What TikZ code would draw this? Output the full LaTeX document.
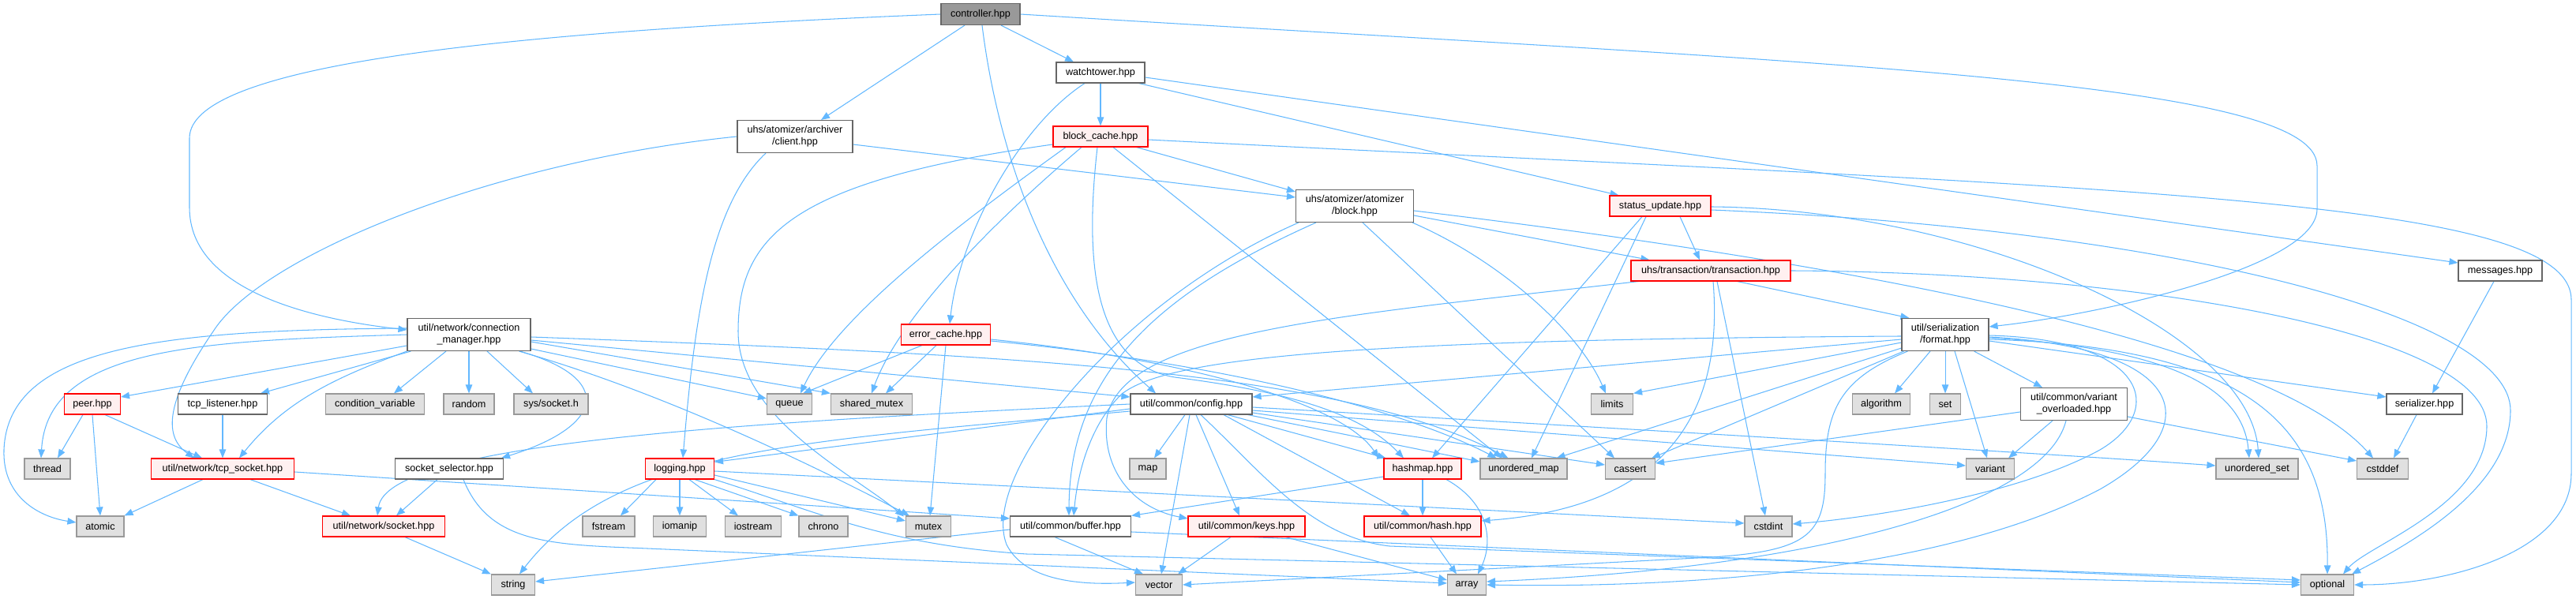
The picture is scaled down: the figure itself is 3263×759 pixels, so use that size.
\documentclass[tikz,border=0pt]{standalone}
\usepackage{fontspec}
\setmainfont{Liberation Sans}
\usetikzlibrary{arrows.meta,calc}
\definecolor{edgec}{HTML}{63B8FF}
\definecolor{redfill}{HTML}{FFF0F0}
\definecolor{grayfill}{HTML}{E0E0E0}
\definecolor{rootfill}{HTML}{999999}
\definecolor{bord}{HTML}{666666}
\definecolor{gbord}{HTML}{999999}
\definecolor{rbord}{HTML}{FF0000}
\pgfdeclarelayer{bg}
\pgfsetlayers{bg,main}
\begin{document}
\begin{tikzpicture}[x=0.02cm,y=-0.02cm,
  font=\fontsize{7.2}{8.5}\selectfont,
  hdr/.style={draw=bord,fill=white,line width=0.65pt,inner sep=0pt,minimum height=0.52cm,align=center},
  sys/.style={hdr,draw=gbord,fill=grayfill},
  trunc/.style={hdr,draw=rbord,fill=redfill},
  root/.style={hdr,fill=rootfill},
  two/.style={minimum height=0.82cm},
  wd/.style={minimum width=#1*0.02cm},
  dep/.style={draw=edgec,line width=0.6pt,-{Triangle[length=0.22cm,width=0.17cm]}}
]
\useasboundingbox (0,0) rectangle (3263,759);

% ---------------- nodes ----------------
\node[root,wd=100,minimum height=0.54cm] (ctrl) at (1242,18) {controller.hpp};
\node[hdr,wd=112] (watch) at (1394,92) {watchtower.hpp};
\node[hdr,two,wd=146] (client) at (1007,173) {uhs/atomizer/archiver\\/client.hpp};
\node[trunc,wd=120] (bcache) at (1394,173) {block\_cache.hpp};
\node[hdr,two,wd=149] (block) at (1716,261) {uhs/atomizer/atomizer\\/block.hpp};
\node[trunc,wd=128] (status) at (2103,261) {status\_update.hpp};
\node[trunc,wd=202] (trans) at (2167,343) {uhs/transaction/transaction.hpp};
\node[hdr,wd=106] (msgs) at (3167,343) {messages.hpp};
\node[hdr,two,wd=156] (cm) at (594,424) {util/network/connection\\\_manager.hpp};
\node[trunc,wd=113] (errc) at (1198,424) {error\_cache.hpp};
\node[hdr,two,wd=110] (format) at (2464,424) {util/serialization\\/format.hpp};

\node[trunc,wd=71] (peer) at (117,512) {peer.hpp};
\node[hdr,wd=113] (tcplis) at (282,512) {tcp\_listener.hpp};
\node[sys,wd=125] (condvar) at (475,512) {condition\_variable};
\node[sys,wd=64] (random) at (594,512) {random};
\node[sys,wd=94] (syssock) at (698,512) {sys/socket.h};
\node[sys,wd=57] (queue) at (1000,512) {queue};
\node[sys,wd=103] (shmutex) at (1104,512) {shared\_mutex};
\node[hdr,wd=154] (config) at (1509,512) {util/common/config.hpp};
\node[sys,wd=53] (limits) at (2042,512) {limits};
\node[sys,wd=73] (algorithm) at (2383,512) {algorithm};
\node[sys,wd=39] (set) at (2464,512) {set};
\node[hdr,two,wd=135] (varov) at (2627,512) {util/common/variant\\\_overloaded.hpp};
\node[hdr,wd=96] (serializer) at (3071,512) {serializer.hpp};

\node[sys,wd=58] (thread) at (60,594) {thread};
\node[trunc,wd=181] (tcpsock) at (282,594) {util/network/tcp\_socket.hpp};
\node[hdr,wd=137] (sockselector) at (569,594) {socket\_selector.hpp};
\node[trunc,wd=87] (logging) at (861,594) {logging.hpp};
\node[sys,wd=46] (map) at (1454,594) {map};
\node[trunc,wd=98] (hashmap) at (1802,594) {hashmap.hpp};
\node[sys,wd=110] (umap) at (1930,594) {unordered\_map};
\node[sys,wd=63] (cassert) at (2065,594) {cassert};
\node[sys,wd=61] (variant) at (2521,594) {variant};
\node[sys,wd=104] (uset) at (2859,594) {unordered\_set};
\node[sys,wd=65] (cstddef) at (3018,594) {cstddef};

\node[sys,wd=60] (atomic) at (127,667) {atomic};
\node[trunc,wd=155] (socket) at (486,667) {util/network/socket.hpp};
\node[sys,wd=66] (fstream) at (771,667) {fstream};
\node[sys,wd=67] (iomanip) at (861,667) {iomanip};
\node[sys,wd=71] (iostream) at (954,667) {iostream};
\node[sys,wd=62] (chrono) at (1043,667) {chrono};
\node[sys,wd=57] (mutex) at (1176,667) {mutex};
\node[hdr,wd=153] (buffer) at (1356,667) {util/common/buffer.hpp};
\node[trunc,wd=148] (keys) at (1579,667) {util/common/keys.hpp};
\node[trunc,wd=148] (hash) at (1802,667) {util/common/hash.hpp};
\node[sys,wd=60] (cstdint) at (2240,667) {cstdint};

\node[sys,wd=55] (string) at (650,741) {string};
\node[sys,wd=59] (vector) at (1468,741) {vector};
\node[sys,wd=49] (array) at (1858,741) {array};
\node[sys,wd=67] (optional) at (2948,741) {optional};

% ---------------- edges ----------------
\begin{pgfonlayer}{bg}
% controller
\draw[dep] (ctrl.west) .. controls (650,40) and (240,80) .. (240,175) -- (240,263) .. controls (240,370) and (400,405) .. ($(cm.west)+(0,-6)$);
\draw[dep] ($(ctrl.south)+(-20,0)$) -- ($(client.north)+(33,0)$);
\draw[dep] ($(ctrl.south)+(26,0)$) -- ($(watch.north)+(-34,0)$);
\draw[dep] ($(ctrl.south)+(2,0)$) .. controls (1265,200) and (1330,380) .. ($(config.north)+(-45,0)$);
\draw[dep] (ctrl.east) .. controls (2300,80) and (2935,100) .. (2935,210) -- (2935,265) .. controls (2935,340) and (2650,400) .. ($(format.east)+(0,-10)$);
% client
\draw[dep] (client.west) .. controls (620,205) and (330,325) .. (270,420) .. controls (205,515) and (210,555) .. ($(tcpsock.north)+(-36,0)$);
\draw[dep] ($(client.south)+(-37,0)$) .. controls (900,260) and (880,400) .. ($(logging.north)+(4,0)$);
\draw[dep] ($(client.east)+(0,10)$) -- ($(block.west)+(0,-11)$);
% watchtower
\draw[dep] ($(watch.south)+(-20,0)$) .. controls (1290,160) and (1215,300) .. ($(errc.north)+(5,0)$);
\draw[dep] (watch) -- (bcache);
\draw[dep] ($(watch.south east)+(-8,0)$) -- ($(status.north west)+(12,0)$);
\draw[dep] ($(watch.east)+(0,6)$) -- ($(msgs.west)+(0,-10)$);
% block_cache
\draw[dep] ($(bcache.south east)+(-15,0)$) -- ($(block.north west)+(0,3)$);
\draw[dep] ($(bcache.east)+(0,4)$) .. controls (2700,240) and (3257,250) .. (3257,380) -- (3257,600) .. controls (3257,700) and (3100,741) .. (optional.east);
\draw[dep] ($(bcache.south)+(-4,0)$) .. controls (1375,320) and (1380,460) .. (1488,478) .. controls (1620,495) and (1720,520) .. ($(hashmap.north)+(-24,0)$);
\draw[dep] ($(bcache.west)+(0,10)$) .. controls (1000,230) and (935,300) .. (935,420) .. controls (935,530) and (1080,600) .. ($(mutex.north west)+(-2,1)$);
\draw[dep] ($(bcache.south)+(-44,0)$) .. controls (1220,280) and (1060,400) .. ($(queue.north)+(14,0)$);
\draw[dep] ($(bcache.south)+(-24,0)$) .. controls (1260,280) and (1140,400) .. (shmutex.north);
\draw[dep] ($(bcache.south)+(16,0)$) -- ($(umap.north west)+(28,0)$);
% block
\draw[dep] ($(block.east)+(0,12)$) -- ($(trans.north west)+(24,0)$);
\draw[dep] ($(block.south west)+(26,0)$) .. controls (1470,370) and (1355,470) .. ($(buffer.north)+(-2,0)$);
\draw[dep] ($(block.south west)+(4,0)$) .. controls (1420,380) and (1240,600) .. (1275,690) .. controls (1300,740) and (1380,741) .. ($(vector.west)+(0,-3)$);
\draw[dep] ($(block.south)+(10,0)$) -- ($(cassert.north)+(-20,0)$);
\draw[dep] ($(block.south east)+(-2,0)$) .. controls (1900,330) and (2000,420) .. ($(limits.north)+(-8,0)$);
\draw[dep] ($(block.east)+(0,6)$) .. controls (2400,340) and (2880,440) .. ($(cstddef.north)+(-12,0)$);
% status_update
\draw[dep] ($(status.south)+(25,0)$) -- ($(trans.north)+(-14,0)$);
\draw[dep] ($(status.south)+(-23,0)$) -- ($(hashmap.north)+(12,0)$);
\draw[dep] ($(status.south)+(-18,0)$) -- ($(umap.north)+(10,0)$);
\draw[dep] ($(status.east)+(0,1)$) .. controls (2500,265) and (2850,420) .. ($(uset.north)+(2,0)$);
\draw[dep] ($(status.east)+(0,5)$) .. controls (2750,290) and (3180,400) .. (3180,520) .. controls (3180,620) and (3050,690) .. ($(optional.north east)+(-3,0)$);
% error_cache
\draw[dep] ($(errc.south)+(-30,0)$) -- ($(queue.north)+(17,0)$);
\draw[dep] ($(errc.south)+(-12,0)$) -- ($(shmutex.north)+(18,0)$);
\draw[dep] (errc.south) -- ($(mutex.north)+(2,0)$);
\draw[dep] ($(errc.east)+(0,6)$) .. controls (1500,455) and (1700,510) .. ($(hashmap.north west)+(-6,0)$);
\draw[dep] ($(errc.east)+(0,8)$) .. controls (1550,460) and (1780,520) .. ($(umap.north west)+(21,0)$);
% transaction
\draw[dep] ($(trans.south west)+(10,0)$) .. controls (1700,400) and (1420,420) .. (1402,530) .. controls (1395,600) and (1440,645) .. ($(keys.west)+(0,-10)$);
\draw[dep] ($(trans.south)+(3,0)$) .. controls (2180,480) and (2150,640) .. ($(hash.east)+(0,-7)$);
\draw[dep] ($(trans.south)+(8,0)$) -- ($(cstdint.north)+(-4,0)$);
\draw[dep] ($(trans.south east)+(-68,0)$) -- ($(format.north west)+(10,0)$);
\draw[dep] (trans.east) .. controls (2700,345) and (3150,420) .. (3150,540) .. controls (3150,640) and (3000,690) .. ($(optional.north)+(20,0)$);
% messages
\draw[dep] ($(msgs.south)+(-8,0)$) -- ($(serializer.north)+(10,0)$);
% format
\draw[dep] ($(format.west)+(0,6)$) -- ($(config.east)+(0,-9)$);
\draw[dep] ($(format.west)+(0,2)$) .. controls (1750,430) and (1480,450) .. (1420,500) .. controls (1380,540) and (1365,600) .. ($(buffer.north)+(4,0)$);
\draw[dep] ($(format.west)+(0,10)$) -- (limits.north east);
\draw[dep] ($(format.south west)+(0,-4)$) -- ($(umap.north east)+(-14,0)$);
\draw[dep] ($(format.south west)+(3,0)$) -- ($(cassert.north east)+(-5,0)$);
\draw[dep] ($(format.south west)+(8,0)$) .. controls (2330,480) and (2312,520) .. (2312,600) .. controls (2312,680) and (2290,700) .. (2150,707) -- (vector.east);
\draw[dep] ($(format.south)+(-19,0)$) -- ($(algorithm.north)+(17,0)$);
\draw[dep] (format.south) -- (set.north);
\draw[dep] ($(format.south)+(12,0)$) -- ($(variant.north)+(-4,0)$);
\draw[dep] ($(format.south east)+(-19,0)$) -- ($(varov.north)+(-40,0)$);
\draw[dep] ($(format.east)+(0,8)$) -- ($(serializer.west)+(0,-9)$);
\draw[dep] ($(format.east)+(0,4)$) .. controls (2720,440) and (2840,480) .. ($(uset.north)+(-10,0)$);
\draw[dep] ($(format.east)+(0,6)$) .. controls (2850,440) and (2950,540) .. (optional.north);
\draw[dep] ($(format.east)+(0,1)$) .. controls (2720,430) and (2745,520) .. (2660,570) .. controls (2560,625) and (2380,655) .. ($(cstdint.east)+(0,-3)$);
\draw[dep] ($(format.east)+(0,3)$) .. controls (2770,440) and (2800,540) .. (2660,620) .. controls (2450,730) and (2100,745) .. (array.east);
% variant_overloaded
\draw[dep] ($(varov.south)+(-27,0)$) -- ($(variant.north east)+(-8,0)$);
\draw[dep] ($(varov.west)+(0,10)$) -- ($(cassert.east)+(0,-7)$);
\draw[dep] ($(varov.east)+(0,16)$) -- ($(cstddef.west)+(0,-10)$);
\draw[dep] ($(varov.south)+(-10,0)$) .. controls (2590,640) and (2300,720) .. ($(array.east)+(0,-4)$);
% serializer
\draw[dep] ($(serializer.south)+(-10,0)$) -- ($(cstddef.north)+(14,0)$);
% config
\draw[dep] ($(config.west)+(0,6)$) -- ($(logging.north east)+(0,5)$);
\draw[dep] (config.west) .. controls (950,535) and (490,560) .. ($(socket.north)+(-8,0)$);
\draw[dep] ($(config.west)+(0,9)$) .. controls (1000,560) and (780,570) .. ($(string.north)+(8,0)$);
\draw[dep] ($(config.south)+(-8,0)$) -- ($(map.north)+(8,0)$);
\draw[dep] ($(config.south)+(-2,0)$) -- ($(vector.north)+(3,0)$);
\draw[dep] ($(config.south)+(6,0)$) -- ($(keys.north)+(-9,0)$);
\draw[dep] ($(config.south)+(41,0)$) -- ($(hash.north)+(-16,0)$);
\draw[dep] ($(config.south)+(46,0)$) -- ($(hashmap.north west)+(3,0)$);
\draw[dep] ($(config.south east)+(-6,0)$) -- ($(umap.west)+(0,-9)$);
\draw[dep] ($(config.east)+(0,4)$) .. controls (2000,540) and (2600,575) .. ($(uset.west)+(0,-4)$);
\draw[dep] ($(config.east)+(0,8)$) -- ($(variant.west)+(0,-4)$);
\draw[dep] ($(config.east)+(0,11)$) -- ($(cassert.west)+(0,-5)$);
\draw[dep] ($(config.south)+(12,0)$) .. controls (1600,600) and (1660,680) .. (1760,692) -- ($(optional.west)+(0,-6)$);
% hashmap
\draw[dep] (hashmap) -- (hash);
\draw[dep] ($(hashmap.south)+(30,0)$) .. controls (1890,640) and (1890,690) .. ($(array.north)+(14,0)$);
\draw[dep] ($(hashmap.west)+(0,10)$) -- (buffer.north east);
% hash, keys
\draw[dep] ($(hash.south)+(10,0)$) -- ($(array.north)+(-13,0)$);
\draw[dep] ($(keys.south)+(-20,0)$) -- ($(vector.north east)+(-6,0)$);
\draw[dep] ($(keys.south east)+(-25,0)$) -- ($(array.west)+(0,-6)$);
% buffer
\draw[dep] ($(buffer.south)+(-20,0)$) -- ($(vector.north)+(-20,0)$);
\draw[dep] ($(buffer.west)+(0,4)$) -- ($(string.east)+(0,-4)$);
\draw[dep] ($(buffer.east)+(0,7)$) -- ($(optional.west)+(0,-3)$);
% logging
\draw[dep] ($(logging.south)+(-30,0)$) -- ($(fstream.north)+(15,0)$);
\draw[dep] (logging.south) -- (iomanip.north);
\draw[dep] ($(logging.south)+(12,0)$) -- ($(iostream.north)+(-19,0)$);
\draw[dep] ($(logging.south east)+(-25,0)$) -- (chrono.north west);
\draw[dep] ($(logging.east)+(0,8)$) -- ($(mutex.west)+(0,-7)$);
\draw[dep] ($(logging.east)+(0,3)$) -- ($(cstdint.west)+(0,-4)$);
\draw[dep] (logging.south east) .. controls (1040,650) and (1120,690) .. (1300,702) -- (optional.west);
% connection_manager
\draw[dep] ($(cm.west)+(0,-8)$) .. controls (200,418) and (10,440) .. (5,570) .. controls (3,630) and (50,655) .. ($(atomic.west)+(0,-5)$);
\draw[dep] (cm.west) .. controls (250,432) and (60,440) .. ($(thread.north)+(-8,0)$);
\draw[dep] ($(cm.west)+(0,14)$) -- ($(peer.east)+(0,-9)$);
\draw[dep] ($(cm.south west)+(5,0)$) -- ($(tcplis.north east)+(-9,0)$);
\draw[dep] (cm.south west) .. controls (420,480) and (360,510) .. ($(tcpsock.north)+(21,0)$);
\draw[dep] ($(cm.south)+(-29,0)$) -- ($(condvar.north)+(24,0)$);
\draw[dep] (cm) -- (random);
\draw[dep] ($(cm.south)+(23,0)$) -- ($(syssock.north)+(-23,0)$);
\draw[dep] ($(cm.south east)+(-14,0)$) .. controls (780,480) and (765,540) .. ($(sockselector.north east)+(-3,0)$);
\draw[dep] ($(cm.east)+(0,18)$) -- ($(queue.west)+(0,-7)$);
\draw[dep] ($(cm.east)+(0,9)$) -- (shmutex.north west);
\draw[dep] ($(cm.south east)+(-15,0)$) .. controls (850,500) and (1050,600) .. ($(mutex.north west)+(5,0)$);
\draw[dep] ($(cm.east)+(0,7)$) -- ($(config.west)+(0,-9)$);
\draw[dep] ($(cm.east)+(0,3)$) .. controls (1300,450) and (1700,470) .. ($(umap.north west)+(36,0)$);
% peer, tcp_listener
\draw[dep] ($(peer.south)+(-12,0)$) -- ($(thread.north)+(13,0)$);
\draw[dep] (peer.south) -- (atomic.north);
\draw[dep] ($(peer.south east)+(-20,0)$) -- ($(tcpsock.north)+(-26,0)$);
\draw[dep] (tcplis) -- (tcpsock);
% tcp_socket
\draw[dep] ($(tcpsock.south)+(-25,0)$) -- (atomic.north east);
\draw[dep] ($(tcpsock.south)+(35,0)$) -- ($(socket.north)+(-42,0)$);
\draw[dep] ($(tcpsock.east)+(0,4)$) -- ($(buffer.west)+(0,-10)$);
% socket_selector, socket
\draw[dep] ($(sockselector.south)+(-15,0)$) -- ($(socket.north)+(16,0)$);
\draw[dep] ($(sockselector.south)+(18,0)$) .. controls (620,690) and (700,690) .. (820,695) -- ($(array.west)+(0,-2)$);
\draw[dep] ($(socket.south)+(27,0)$) -- (string.north west);
\end{pgfonlayer}
\end{tikzpicture}
\end{document}
